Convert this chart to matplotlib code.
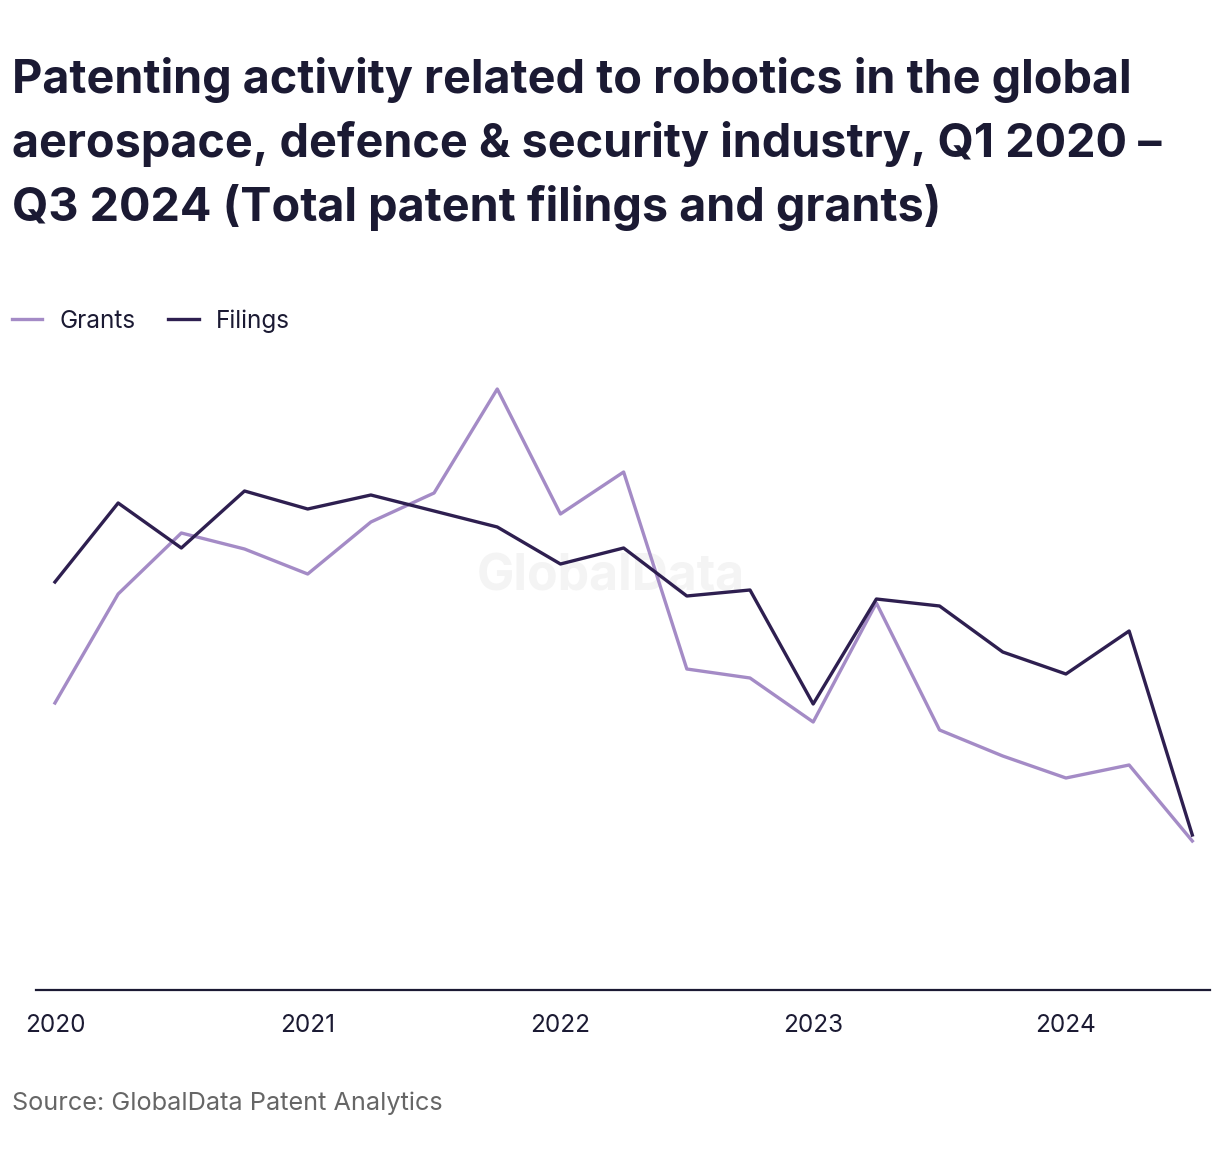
import matplotlib
matplotlib.use('Agg')
from matplotlib import pyplot as plt

quarters = ['Q1 2020', 'Q2 2020', 'Q3 2020', 'Q4 2020',
            'Q1 2021', 'Q2 2021', 'Q3 2021', 'Q4 2021',
            'Q1 2022', 'Q2 2022', 'Q3 2022', 'Q4 2022',
            'Q1 2023', 'Q2 2023', 'Q3 2023', 'Q4 2023',
            'Q1 2024', 'Q2 2024', 'Q3 2024']
grants = [287, 396, 457, 441, 416, 468, 497, 601, 476, 518,
          321, 312, 268, 387, 260, 234, 212, 225, 149]
filings = [408, 487, 442, 499, 481, 495, 479, 463, 426, 442,
           394, 400, 286, 391, 384, 338, 316, 359, 155]
year_labels = ['2020', '2021', '2022', '2023', '2024']

W, H = 1220, 1160
DARK = '#1b1a33'
GRANT_C = '#a48bc6'
FILING_C = '#2e1f50'

plt.rcParams['font.family'] = ['Inter', 'DejaVu Sans']

fig = plt.figure(figsize=(W / 100, H / 100), dpi=100)
fig.patch.set_facecolor('white')

ax = fig.add_axes([36 / W, (H - 990) / H, (1210 - 36) / W, (990 - 350) / H])
x = list(range(len(quarters)))

ax.text(0.49, 0.645, 'GlobalData', transform=ax.transAxes, ha='center', va='center',
        fontsize=36, fontweight='bold', color='#f4f4f4', zorder=0)

ax.plot(x, grants, color=GRANT_C, lw=2.4, label='Grants', zorder=2)
ax.plot(x, filings, color=FILING_C, lw=2.4, label='Filings', zorder=3)

ax.set_xlim(-0.3, 18.28)
ax.set_ylim(0, 640)
ax.set_yticks([])
ax.set_xticks([0, 4, 8, 12, 16])
ax.set_xticklabels(year_labels, fontsize=17.5, color=DARK)
ax.tick_params(axis='x', length=0, pad=17)
for s in ['top', 'right', 'left']:
    ax.spines[s].set_visible(False)
ax.spines['bottom'].set_color(DARK)
ax.spines['bottom'].set_linewidth(1.6)

title_lines = ['Patenting activity related to robotics in the global',
               'aerospace, defence & security industry, Q1 2020 \u2013',
               'Q3 2024 (Total patent filings and grants)']
for i, line in enumerate(title_lines):
    fig.text(12 / W, 1 - (93 + i * 64) / H, line, fontsize=33.7, fontweight='bold',
             color=DARK, va='baseline', ha='left')

fig.legend(handles=ax.get_lines(), loc='center left',
           bbox_to_anchor=(12 / W, 1 - 321 / H), ncol=2, frameon=False,
           fontsize=17.5, handlelength=1.25, handletextpad=0.7, columnspacing=1.35,
           borderpad=0, borderaxespad=0, labelcolor=DARK)

fig.text(12 / W, 1 - 1110 / H, 'Source: GlobalData Patent Analytics', fontsize=18.2,
         color='#666666', va='baseline', ha='left')

fig.savefig('out.png', dpi=100)
